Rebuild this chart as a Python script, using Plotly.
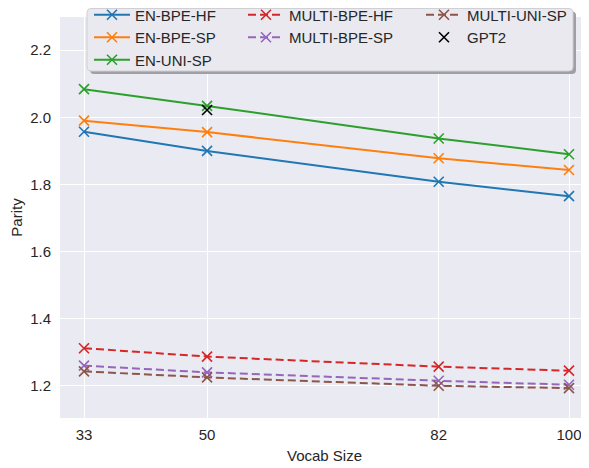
import plotly.graph_objects as go

vocab = [33, 50, 82, 100]
en_bpe_hf = [1.957, 1.900, 1.808, 1.765]
en_bpe_sp = [1.990, 1.956, 1.878, 1.843]
en_uni_sp = [2.084, 2.034, 1.937, 1.890]
multi_bpe_hf = [1.312, 1.287, 1.257, 1.245]
multi_bpe_sp = [1.260, 1.240, 1.215, 1.203]
multi_uni_sp = [1.243, 1.225, 1.200, 1.193]
gpt2_vocab = [50]
gpt2 = [2.022]

x_ticks = [33, 50, 82, 100]
y_ticks = [1.2, 1.4, 1.6, 1.8, 2.0, 2.2]

series = [
    ("EN-BPE-HF", en_bpe_hf, "#1f77b4", "solid", "legend"),
    ("EN-BPE-SP", en_bpe_sp, "#ff7f0e", "solid", "legend"),
    ("EN-UNI-SP", en_uni_sp, "#2ca02c", "solid", "legend"),
    ("MULTI-BPE-HF", multi_bpe_hf, "#d62728", "8px,4px", "legend2"),
    ("MULTI-BPE-SP", multi_bpe_sp, "#9467bd", "8px,4px", "legend2"),
    ("MULTI-UNI-SP", multi_uni_sp, "#8c564b", "8px,4px", "legend3"),
]

FONT = "Liberation Sans, Arial, sans-serif"
TXT = "#262626"

fig = go.Figure()
for name, vals, color, dash, lg in series:
    fig.add_trace(go.Scatter(
        x=vocab, y=vals, name=name, mode="lines+markers",
        line=dict(color=color, width=2, dash=dash),
        marker=dict(symbol="x-thin", size=10, line=dict(color=color, width=1.6)),
        legend=lg,
    ))
fig.add_trace(go.Scatter(
    x=gpt2_vocab, y=gpt2, name="GPT2", mode="markers",
    marker=dict(symbol="x-thin", size=10, color="black", line=dict(color="black", width=1.6)),
    legend="legend3",
))

# The page body has an 8px default margin, so the figure is drawn at (8, 8)
# on screen. Figure is sized so that it ends exactly at the window edge.
OFF = 8
W, H = 589 - OFF, 468 - OFF
L, R, T, B = 60 - OFF, 0, 17 - OFF, 468 - 418
pw, ph = W - L - R, H - T - B

def px_x(sx):  # screen px -> paper x
    return (sx - OFF - L) / pw

def px_y(sy):  # screen px -> paper y
    return (H - B - (sy - OFF)) / ph

def rounded(x0, y0, x1, y1, r):
    rx, ry = r / pw, r / ph
    X0, X1 = px_x(x0), px_x(x1)
    Y0, Y1 = px_y(y0), px_y(y1)
    return (f"M{X0+rx},{Y0} L{X1-rx},{Y0} Q{X1},{Y0} {X1},{Y0-ry} "
            f"L{X1},{Y1+ry} Q{X1},{Y1} {X1-rx},{Y1} L{X0+rx},{Y1} "
            f"Q{X0},{Y1} {X0},{Y1+ry} L{X0},{Y0-ry} Q{X0},{Y0} {X0+rx},{Y0} Z")

bx0, by0, bx1, by1 = 87, 8.5, 573, 71
fig.add_shape(type="path", path=rounded(bx0 + 3, by0 + 3, bx1 + 3, by1 + 3, 4),
              xref="paper", yref="paper", fillcolor="#a0a0a4",
              line=dict(width=0), layer="above")
fig.add_shape(type="path", path=rounded(bx0, by0, bx1, by1, 4),
              xref="paper", yref="paper", fillcolor="#e9e9ef",
              line=dict(color="#cfcfd4", width=1), layer="above")

leg_common = dict(bgcolor="rgba(0,0,0,0)", borderwidth=0,
                  font=dict(family=FONT, size=15, color=TXT),
                  xanchor="left", yanchor="top", orientation="v",
                  itemwidth=36,
                  itemclick=False, itemdoubleclick=False)
LEG_TOP = -1.5
fig.update_layout(
    legend=dict(x=px_x(89), y=px_y(LEG_TOP), **leg_common),
    legend2=dict(x=px_x(243), y=px_y(LEG_TOP), **leg_common),
    legend3=dict(x=px_x(421), y=px_y(LEG_TOP), **leg_common),
)

fig.update_layout(
    width=W, height=H,
    margin=dict(l=L, r=R, t=T, b=B, pad=0, autoexpand=False),
    paper_bgcolor="white", plot_bgcolor="#eaeaf2",
    font=dict(family=FONT, size=15, color=TXT),
    showlegend=True,
)
fig.update_xaxes(
    range=[33 - 24 / 7.24, 100 + 20 / 7.24],
    tickvals=x_ticks, ticktext=[str(v) for v in x_ticks],
    showgrid=True, gridcolor="white", gridwidth=1.2,
    zeroline=False, showline=False, ticks="",
    ticklabelstandoff=6,
    title=dict(text="Vocab Size", font=dict(size=15, color=TXT), standoff=8),
    tickfont=dict(size=15, color=TXT),
    automargin=False,
)
fig.update_yaxes(
    range=[1.104, 2.299],
    tickvals=y_ticks, ticktext=[f"{v:.1f}" for v in y_ticks],
    showgrid=True, gridcolor="white", gridwidth=1.2,
    zeroline=False, showline=False, ticks="",
    ticklabelstandoff=8,
    title=dict(text="Parity", font=dict(size=15, color=TXT), standoff=3),
    tickfont=dict(size=15, color=TXT),
    automargin=False,
)

fig.write_html("out.html")
